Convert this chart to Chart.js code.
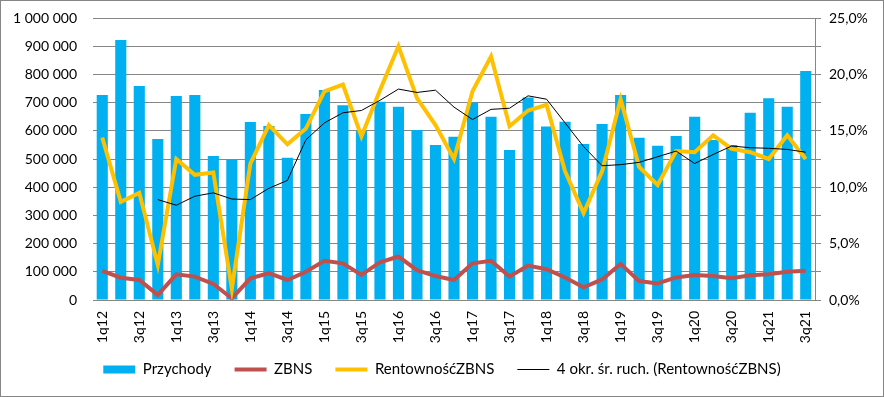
<!DOCTYPE html>
<html>
<head>
<meta charset="utf-8">
<script src="https://cdn.jsdelivr.net/npm/chart.js@4/dist/chart.umd.min.js"></script>
<style>
body{margin:0;background:#fff}
#wrap{width:884px;height:397px;border:1px solid #868686;box-sizing:border-box;position:relative}
</style>
</head>
<body>
<div id="wrap"><canvas id="chart" width="882" height="395"></canvas></div>
<script>
// kwartały 1q12 .. 3q21
const kwartaly = ["1q12","2q12","3q12","4q12","1q13","2q13","3q13","4q13","1q14","2q14","3q14","4q14",
"1q15","2q15","3q15","4q15","1q16","2q16","3q16","4q16","1q17","2q17","3q17","4q17",
"1q18","2q18","3q18","4q18","1q19","2q19","3q19","4q19","1q20","2q20","3q20","4q20",
"1q21","2q21","3q21"]

const przychody = [727000,922000,759000,571000,723000,727000,511000,499000,631000,617000,504000,660000,
745000,691000,600000,703000,685000,603000,550000,579000,700000,650000,532000,718000,
615000,632000,553000,624000,727000,575000,547000,582000,650000,567000,550000,664000,
715000,685000,812000]

const zbns = [103000,79000,71000,18000,91000,83000,57000,6000,77000,95000,71000,100000,
139000,130000,89000,134000,154000,106000,85000,71000,130000,139000,83000,122000,
109000,80000,45000,73000,128000,67000,59000,80000,89000,85000,77000,88000,
91000,100000,104000]

const rentownosc = [14.4,8.7,9.5,3.1,12.5,11.1,11.3,1.0,12.1,15.5,13.8,15.2,
18.5,19.1,14.5,18.6,22.5,17.9,15.5,12.5,18.5,21.6,15.4,16.8,
17.3,11.4,7.7,11.4,17.8,11.8,10.2,13.2,13.1,14.6,13.4,13.1,
12.5,14.6,12.5]

const srednia4 = [null,null,null,8.9,8.4,9.2,9.5,8.95,8.9,9.9,10.6,14.2,
15.7,16.6,16.8,17.7,18.7,18.4,18.6,17.1,16.0,16.9,17.0,18.1,
17.8,15.7,13.6,11.9,12.0,12.2,12.7,13.2,12.1,12.9,13.65,13.5,
13.45,13.35,13.1]

const szary = "#868686"
const font = {family:"Lato, 'Open Sans', sans-serif", size:14}
const fontLegenda = {family:"Lato, 'Open Sans', sans-serif", size:15}

function tysiace(v){
return String(Math.round(v)).replace(/\B(?=(\d{3})+(?!\d))/g," ")
}

// legenda troche blizej osi X
const przesunLegende = {
id:"przesunLegende",
afterLayout(ch){
ch.legend.top -= 5
ch.legend.bottom -= 5
}
}

const chart = new Chart(document.getElementById("chart"),{
type:"bar",
data:{
labels:kwartaly,
datasets:[
{label:"Przychody",data:przychody,backgroundColor:"#00B0F0",yAxisID:"y",
 barPercentage:0.6,categoryPercentage:1,order:4},
{type:"line",label:"ZBNS",data:zbns,borderColor:"#C0504D",backgroundColor:"#C0504D",
 borderWidth:4,pointRadius:0,yAxisID:"y",order:3},
{type:"line",label:"RentownośćZBNS",data:rentownosc,borderColor:"#FFC000",backgroundColor:"#FFC000",
 borderWidth:4,pointRadius:0,yAxisID:"y1",order:2},
{type:"line",label:"4 okr. śr. ruch. (RentownośćZBNS)",data:srednia4,borderColor:"#000",backgroundColor:"#000",
 borderWidth:1,pointRadius:0,yAxisID:"y1",order:1}
]
},
plugins:[przesunLegende],
options:{
responsive:false,
animation:false,
layout:{padding:{top:17,left:0,right:0,bottom:4}},
plugins:{
tooltip:{enabled:false},
legend:{
position:"bottom",
labels:{
font:fontLegenda,color:"#000",padding:23,boxHeight:8,usePointStyle:true,pointStyleWidth:32,
sort:(a,b)=>a.datasetIndex-b.datasetIndex,
generateLabels(ch){
const items = Chart.defaults.plugins.legend.labels.generateLabels(ch)
items.forEach(it=>{
if(it.datasetIndex===0){it.pointStyle="rect";it.lineWidth=0}
else{it.pointStyle="line"}
})
return items
}
}
}
},
scales:{
x:{
grid:{display:false,drawTicks:false},
border:{display:true,color:szary},
ticks:{font,color:"#000",autoSkip:false,minRotation:90,maxRotation:90,padding:11,
 callback(v,i){return i%2===0?kwartaly[i]:""}},
afterFit(s){s.height=44}
},
y:{
position:"left",min:0,max:1000000,
grid:{color:szary,tickLength:16,tickColor:"rgba(0,0,0,0)"},
border:{display:false},
ticks:{font,color:"#000",stepSize:100000,padding:0,callback:v=>tysiace(v)},
afterFit(s){s.width=92}
},
y1:{
position:"right",min:0,max:25,
grid:{color:szary,drawOnChartArea:false,tickLength:6},
border:{display:true,color:szary},
ticks:{font,color:"#000",stepSize:2.5,padding:8,
 callback:v=>(Math.abs(v/5-Math.round(v/5))<1e-6)?v.toFixed(1).replace(".",",")+"%":""},
afterFit(s){s.width=68}
}
}
}
})
</script>
</body>
</html>
